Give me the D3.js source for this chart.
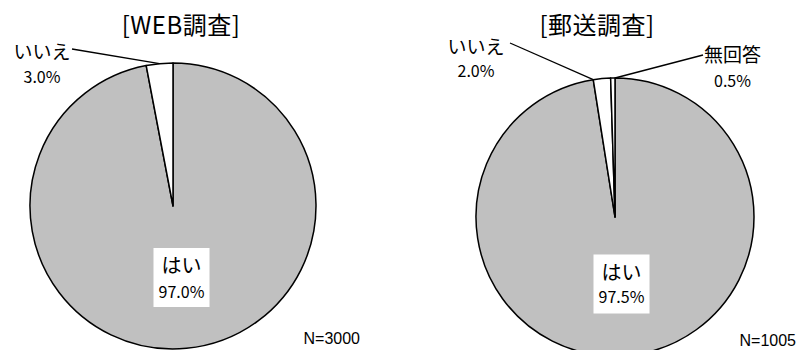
<!DOCTYPE html>
<html>
<head>
<meta charset="utf-8">
<script src="https://cdn.jsdelivr.net/npm/d3@7/dist/d3.min.js"></script>
<style>
  body { margin: 0; background: #fff; }
  svg { display: block; }
  text { font-family: "Noto Sans CJK JP", "Noto Sans", sans-serif; fill: #000; }
  .nsize { font-family: "Liberation Sans", Arial, sans-serif; }
</style>
</head>
<body>
<svg id="chart" width="799" height="350"></svg>
<script>
// Survey answers, one pie per survey method
const webCategories = ["はい", "いいえ"];
const webValues = [97.0, 3.0];
const mailCategories = ["はい", "いいえ", "無回答"];
const mailValues = [97.5, 2.0, 0.5];
const titles = ["[WEB調査]", "[郵送調査]"];
const sampleSizes = ["N=3000", "N=1005"];

const fills = { "はい": "#c0c0c0", "いいえ": "#ffffff", "無回答": "#ffffff" };

const svg = d3.select("#chart");

const pies = [
  {
    title: titles[0], n: sampleSizes[0],
    cats: webCategories, vals: webValues,
    cx: 173, cy: 206, r: 143, titleX: 181, nX: 360, nY: 344,
    // label placement per category, relative to the pie centre
    labels: {
      "はい": { box: true, x: 8.5, y: 72, ty: -5, py: 20 },
      "いいえ": { x: -131, y: -147, py: 24, leader: [-101, -157] }
    }
  },
  {
    title: titles[1], n: sampleSizes[1],
    cats: mailCategories, vals: mailValues,
    cx: 615, cy: 217, r: 139, titleX: 597, nX: 796, nY: 346,
    labels: {
      "はい": { box: true, x: 6.5, y: 67.5, ty: -4.5, py: 18.5 },
      "いいえ": { x: -139, y: -163, py: 23, leader: [-105, -174], edge: "start" },
      "無回答": { x: 117.5, y: -155, py: 25, leader: [88, -162], edge: "end" }
    }
  }
];

pies.forEach(p => {
  const g = svg.append("g").attr("transform", `translate(${p.cx},${p.cy})`);
  const data = p.cats.map((c, i) => ({ cat: c, val: p.vals[i] }));
  const arcs = d3.pie().sort(null).value(d => d.val)(data);
  const arc = d3.arc().innerRadius(0).outerRadius(p.r);

  g.selectAll("path.slice")
    .data(arcs)
    .join("path")
    .attr("class", "slice")
    .attr("d", arc)
    .attr("fill", d => fills[d.data.cat])
    .attr("stroke", "#000")
    .attr("stroke-width", 1.5)
    .attr("stroke-linejoin", "round");

  // title
  svg.append("text")
    .attr("x", p.titleX).attr("y", 34)
    .attr("text-anchor", "middle")
    .style("font-size", "24px")
    .style("letter-spacing", "0.5px")
    .text(p.title);

  // sample size
  svg.append("text")
    .attr("class", "nsize")
    .attr("x", p.nX).attr("y", p.nY)
    .attr("text-anchor", "end")
    .style("font-size", "16px")
    .text(p.n);

  arcs.forEach(a => {
    const cat = a.data.cat;
    const L = p.labels[cat];
    const pct = a.data.val.toFixed(1) + "%";
    if (L.box) {
      const lg = g.append("g").attr("transform", `translate(${L.x},${L.y})`);
      lg.append("rect")
        .attr("x", -28).attr("y", -30).attr("width", 56).attr("height", 59)
        .attr("fill", "#fff");
      lg.append("text").attr("text-anchor", "middle").attr("y", L.ty)
        .style("font-size", "20px").text(cat);
      lg.append("text").attr("text-anchor", "middle").attr("y", L.py)
        .style("font-size", "16px").text(pct);
    } else {
      // leader line from the slice's outer edge to the label
      let ang;
      if (L.edge === "start") ang = a.startAngle;
      else if (L.edge === "end") ang = a.endAngle;
      else ang = (a.startAngle + a.endAngle) / 2;
      const px = Math.sin(ang) * p.r, py = -Math.cos(ang) * p.r;
      g.append("line")
        .attr("x1", px).attr("y1", py)
        .attr("x2", L.leader[0]).attr("y2", L.leader[1])
        .attr("stroke", "#000").attr("stroke-width", 1.3);
      g.append("text").attr("x", L.x).attr("y", L.y).attr("text-anchor", "middle")
        .style("font-size", "19px").text(cat);
      g.append("text").attr("x", L.x).attr("y", L.y + L.py).attr("text-anchor", "middle")
        .style("font-size", "16px").text(pct);
    }
  });
});
</script>
</body>
</html>
